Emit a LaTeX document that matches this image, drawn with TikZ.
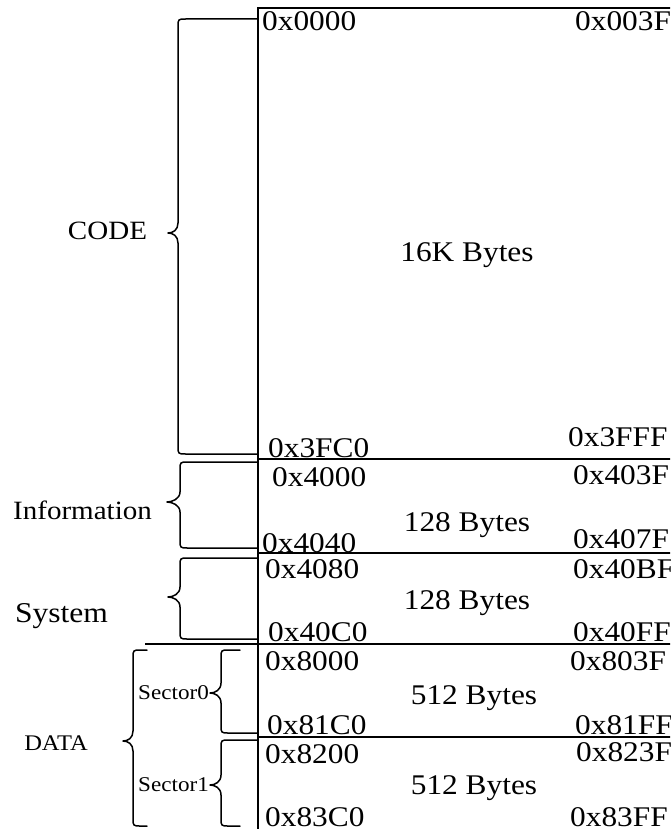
\documentclass[tikz,border=0pt]{standalone}
\usepackage{fontspec}
\setmainfont{Liberation Serif}[FakeStretch=1.1]
\newcommand\mybrace[7]{% xr-top, ytop, xr-bot, ybot, xv, xtip, ytip
  \draw[brc] (#1,#2) -- (#5+8,#2) .. controls (#5,#2) .. (#5,#2+8)
    -- (#5,#7-10) .. controls (#5,#7-3) and (#6+5,#7) .. (#6,#7)
    .. controls (#6+5,#7) and (#5,#7+3) .. (#5,#7+10)
    -- (#5,#4-8) .. controls (#5,#4) .. (#5+8,#4) -- (#3,#4);}
\begin{document}
\begin{tikzpicture}[x=1pt,y=-1pt,
  box/.style={line width=1.8pt},
  brc/.style={line width=1.5pt, line cap=round, line join=round},
  addr/.style={inner sep=0pt, anchor=west, font=\fontsize{28.5}{31}\selectfont, text height=19.4pt, text depth=0pt},
  size/.style={inner sep=0pt, anchor=center, font=\fontsize{28.5}{31}\selectfont, text height=19.4pt, text depth=0pt},
  lbl/.style={inner sep=0pt, text depth=0pt}]
\useasboundingbox (0,0) rectangle (670,829);
\clip (0,0) rectangle (670,829);
% memory box
\coordinate (tl) at (258,8);
\coordinate (tr) at (672,8);
\coordinate (bl) at (258,831);
\draw[box] (bl) -- (tl) -- (tr);
\coordinate (s1l) at (258,459); \coordinate (s1r) at (672,459);
\coordinate (s2l) at (258,553); \coordinate (s2r) at (672,553);
\coordinate (s3l) at (145,644); \coordinate (s3r) at (672,644);
\coordinate (s4l) at (258,737); \coordinate (s4r) at (672,737);
\draw[box] (s1l) -- (s1r);
\draw[box] (s2l) -- (s2r);
\draw[box] (s3l) -- (s3r);
\draw[box] (s4l) -- (s4r);
% addresses
\node[addr] (a0000) at (262,21) {0x0000};
\node[addr] (a003F) at (575,21) {0x003F};
\node[size] (code) at (467,252) {16K Bytes};
\node[addr] (a3FC0) at (268,448) {0x3FC0};
\node[addr] (a3FFF) at (568,437) {0x3FFF};
\node[addr] (a4000) at (272,477) {0x4000};
\node[addr] (a403F) at (573,475) {0x403F};
\node[size] (info) at (467,522) {128 Bytes};
\node[addr] (a4040) at (262,543) {0x4040};
\node[addr] (a407F) at (573,539) {0x407F};
\node[addr] (a4080) at (265,569) {0x4080};
\node[addr] (a40BF) at (573,569) {0x40BF};
\node[size] (sys) at (467,600) {128 Bytes};
\node[addr] (a40C0) at (268,632) {0x40C0};
\node[addr] (a40FF) at (573,632) {0x40FF};
\node[addr] (a8000) at (265,661) {0x8000};
\node[addr] (a803F) at (570,661) {0x803F};
\node[size] (sec0) at (474,695) {512 Bytes};
\node[addr] (a81C0) at (267,725) {0x81C0};
\node[addr] (a81FF) at (575,725) {0x81FF};
\node[addr] (a8200) at (265,754) {0x8200};
\node[addr] (a823F) at (576,752) {0x823F};
\node[size] (sec1) at (474,785) {512 Bytes};
\node[addr] (a83C0) at (265,817) {0x83C0};
\node[addr] (a83FF) at (570,817) {0x83FF};
% braces
\mybrace{258}{19}{258}{454}{178}{168}{233}
\mybrace{258}{462}{258}{548}{180}{167}{502}
\mybrace{258}{558}{258}{639}{180}{168}{597}
\mybrace{240}{650}{258}{733}{221}{210}{693}
\mybrace{258}{740}{240}{826}{221}{210}{785}
\mybrace{147}{650}{147}{826}{133}{123}{741}
% region labels
\node[lbl, text height=18pt, font=\fontsize{26.4}{29}\selectfont] (lcode) at (107.5,230) {CODE};
\node[lbl, text height=18pt, font=\fontsize{26.4}{29}\selectfont] (linfo) at (82.5,510) {Information};
\node[lbl, text height=19.5pt, font=\fontsize{28.7}{31}\selectfont] (lsys) at (61.5,613) {System};
\node[lbl, text height=15.2pt, font=\fontsize{22.3}{25}\selectfont] (ldata) at (56,743) {DATA};
\node[lbl, text height=14.4pt, anchor=east, font=\fontsize{21}{24}\selectfont] (lsec0) at (209,692) {Sector0};
\node[lbl, text height=14.4pt, anchor=east, font=\fontsize{21}{24}\selectfont] (lsec1) at (209,784) {Sector1};
\end{tikzpicture}
\end{document}
